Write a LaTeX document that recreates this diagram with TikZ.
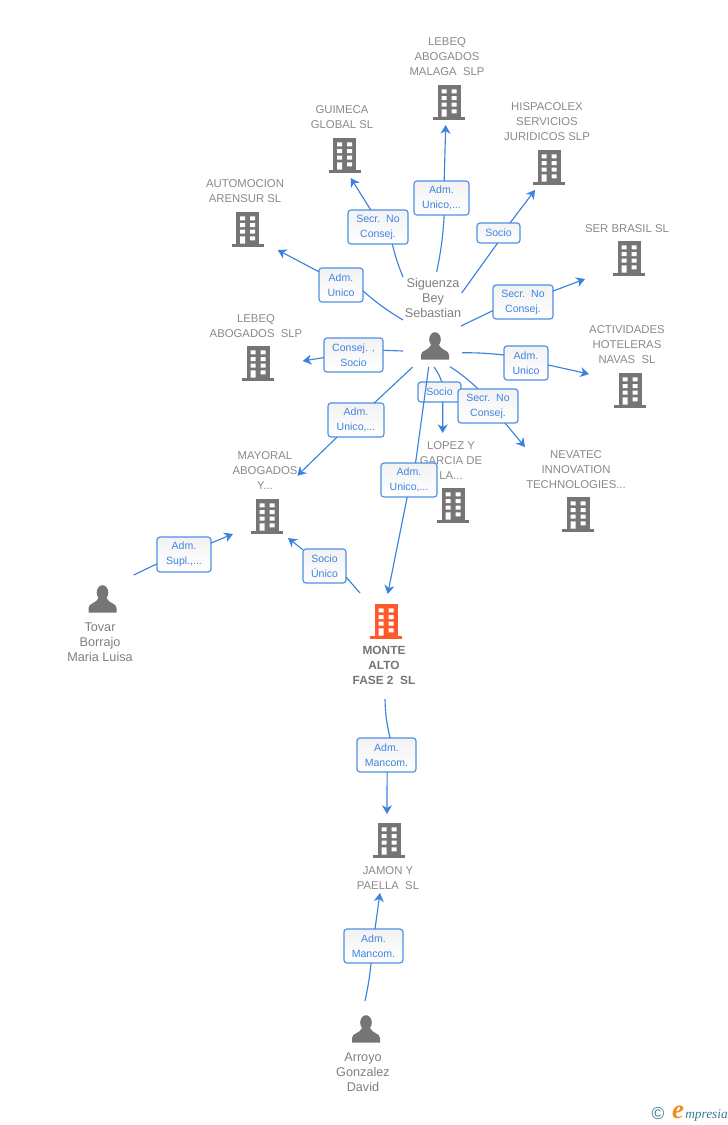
\documentclass[tikz,border=0pt]{standalone}
\usepackage{fontspec}
\setmainfont{Liberation Sans}
\newfontfamily\logofont{Liberation Serif}
\usetikzlibrary{arrows.meta}
\definecolor{icongray}{HTML}{757575}
\definecolor{textgray}{HTML}{8A8A8A}
\definecolor{persongray}{HTML}{808080}
\definecolor{linkblue}{HTML}{3B82E0}
\definecolor{tagtext}{HTML}{3F84E0}
\definecolor{tagborder}{HTML}{4F8FE6}
\definecolor{mainorange}{HTML}{FF5A2B}
\definecolor{logoteal}{HTML}{3A7A96}
\definecolor{logoorange}{HTML}{F58A1F}
\tikzset{
  x=0.75pt,y=-0.75pt,
  corpname/.style={text=textgray,align=center,inner sep=0pt,font=\fontsize{8.5}{11.25}\selectfont},
  personname/.style={text=persongray,align=center,inner sep=0pt,font=\fontsize{9.5}{11.25}\selectfont},
  mainname/.style={text=icongray,align=center,inner sep=0pt,font=\bfseries\fontsize{8.9}{11.25}\selectfont},
  tag/.style={draw=tagborder,line width=0.9pt,rounded corners=2.2pt,top color=black!5,bottom color=white,
    text=tagtext,align=center,inner sep=0pt,outer sep=0pt,font=\fontsize{7.9}{11.25}\selectfont},
  conn/.style={draw=linkblue,line width=0.85pt},
  arr/.style={conn,-{Stealth[length=6.5pt,width=7.5pt,inset=2pt]}},
  iconbox/.style={inner sep=0pt,minimum width=24pt,minimum height=25.5pt},
  pics/bldg/.style={code={
    \fill[#1] (-11.5,-17) rectangle (11.5,15);
    \fill[#1] (-16,14.5) rectangle (16,17.5);
    \fill[white] (-7.5,-12.7) rectangle (-2.5,-8.7) (2.5,-12.7) rectangle (7.5,-8.7)
      (-7.5,-6) rectangle (-2.5,-2) (2.5,-6) rectangle (7.5,-2)
      (-7.5,0.7) rectangle (-2.5,4.7) (2.5,0.7) rectangle (7.5,4.7)
      (-7.5,7.3) rectangle (-2.5,14.5) (2.5,7.3) rectangle (7.5,11.3);
  }},
  pics/pers/.style={code={
    \fill[icongray] (0,-6.5) ellipse [x radius=5.8,y radius=7.3];
    \fill[icongray] (-14,13.5) -- (-14,9) .. controls (-14,4) and (-6,4.5) .. (-4,-1) -- (4,-1)
      .. controls (6,4.5) and (14,4) .. (14,9) -- (14,13.5) -- cycle;
  }},
}
\begin{document}
\begin{tikzpicture}
\useasboundingbox (0,0) rectangle (728,1125);
\fill[white] (0,0) rectangle (728,1125);
% names
\node[corpname] (tMalaga) at (447,56.5) {LEBEQ\\ABOGADOS\\MALAGA~~SLP};
\node[corpname] (tGuimeca) at (342,117) {GUIMECA\\GLOBAL SL};
\node[corpname] (tAuto) at (245,191) {AUTOMOCION\\ARENSUR SL};
\node[corpname] (tHisp) at (547,121.5) {HISPACOLEX\\SERVICIOS\\JURIDICOS SLP};
\node[corpname] (tSer) at (627,228.5) {SER BRASIL SL};
\node[corpname] (tActiv) at (627,344.5) {ACTIVIDADES\\HOTELERAS\\NAVAS~~SL};
\node[corpname] (tLebeq) at (256,326) {LEBEQ\\ABOGADOS~~SLP};
\node[corpname] (tMayoral) at (265,470.5) {MAYORAL\\ABOGADOS\\Y...};
\node[corpname] (tLopez) at (451,460.5) {LOPEZ Y\\GARCIA DE\\LA...};
\node[corpname] (tNevatec) at (576,469.5) {NEVATEC\\INNOVATION\\TECHNOLOGIES...};
\node[mainname] (tMonte) at (384,665) {MONTE\\ALTO\\FASE 2~~SL};
\node[corpname] (tJamon) at (388,878) {JAMON Y\\PAELLA~~SL};
\node[personname] (tSig) at (433,298) {Siguenza\\Bey\\Sebastian};
\node[personname] (tTovar) at (100,642) {Tovar\\Borrajo\\Maria Luisa};
\node[personname] (tArroyo) at (363,1072) {Arroyo\\Gonzalez\\David};
% icons
\node[iconbox] (iMalaga) at (449,102) {}; \pic at (iMalaga) {bldg=icongray};
\node[iconbox] (iGuimeca) at (344.5,155) {}; \pic at (iGuimeca) {bldg=icongray};
\node[iconbox] (iAuto) at (247.5,229) {}; \pic at (iAuto) {bldg=icongray};
\node[iconbox] (iHisp) at (549,167) {}; \pic at (iHisp) {bldg=icongray};
\node[iconbox] (iSer) at (629,258) {}; \pic at (iSer) {bldg=icongray};
\node[iconbox] (iActiv) at (630,390) {}; \pic at (iActiv) {bldg=icongray};
\node[iconbox] (iLebeq) at (258,363) {}; \pic at (iLebeq) {bldg=icongray};
\node[iconbox] (iMayoral) at (267,516) {}; \pic at (iMayoral) {bldg=icongray};
\node[iconbox] (iLopez) at (453,505) {}; \pic at (iLopez) {bldg=icongray};
\node[iconbox] (iNevatec) at (578,514) {}; \pic at (iNevatec) {bldg=icongray};
\node[iconbox] (iMonte) at (386,621) {}; \pic at (iMonte) {bldg=mainorange};
\node[iconbox] (iJamon) at (389,840) {}; \pic at (iJamon) {bldg=icongray};
\node[iconbox] (iSig) at (435,346) {}; \pic at (iSig) {pers};
\node[iconbox] (iTovar) at (102.5,599) {}; \pic at (iTovar) {pers};
\node[iconbox] (iArroyo) at (366,1029) {}; \pic at (iArroyo) {pers};
% tags
\node[tag,minimum width=41.25pt,minimum height=25.5pt] (bMalaga) at (441.5,198) {Adm.\\Unico,...};
\node[tag,minimum width=45pt,minimum height=25.5pt] (bGuimeca) at (378,227) {Secr.~~No\\Consej.};
\node[tag,minimum width=33pt,minimum height=25.5pt] (bAuto) at (341,285) {Adm.\\Unico};
\node[tag,minimum width=32.25pt,minimum height=15pt] (bHisp) at (498.5,233) {Socio};
\node[tag,minimum width=45pt,minimum height=25.5pt] (bSer) at (523,302) {Secr.~~No\\Consej.};
\node[tag,minimum width=33pt,minimum height=25.5pt] (bActiv) at (526,363) {Adm.\\Unico};
\node[tag,minimum width=44.25pt,minimum height=25.5pt] (bLebeq) at (353.5,355) {Consej. ,\\Socio};
\node[tag,minimum width=32.25pt,minimum height=15pt] (bLopez) at (439.5,392) {Socio};
\node[tag,minimum width=45pt,minimum height=25.5pt] (bNevatec) at (488,406) {Secr.~~No\\Consej.};
\node[tag,minimum width=42pt,minimum height=25.5pt] (bMayoral) at (356,420) {Adm.\\Unico,...};
\node[tag,minimum width=42pt,minimum height=25.5pt] (bMonte) at (409,480) {Adm.\\Unico,...};
\node[tag,minimum width=32.25pt,minimum height=25.5pt] (bSocio) at (324.5,566) {Socio\\Único};
\node[tag,minimum width=40.5pt,minimum height=26.25pt] (bSupl) at (184,554.5) {Adm.\\Supl.,...};
\node[tag,minimum width=44.25pt,minimum height=25.5pt] (bJamon) at (386.5,755) {Adm.\\Mancom.};
\node[tag,minimum width=44.25pt,minimum height=25.5pt] (bArroyo) at (373.5,946) {Adm.\\Mancom.};
% free ends
\coordinate (sMalaga) at (436.7,271.7); \coordinate (eMalaga) at (445.7,125);
\coordinate (sGuimeca) at (403,277); \coordinate (eGuimeca) at (350.7,178);
\coordinate (sAuto) at (403,320); \coordinate (eAuto) at (277.7,250);
\coordinate (sHisp) at (461.7,293); \coordinate (eHisp) at (535,190);
\coordinate (sSer) at (461,326); \coordinate (eSer) at (585,279);
\coordinate (sActiv) at (462,352.7); \coordinate (eActiv) at (589,374);
\coordinate (sLebeq) at (403,351); \coordinate (eLebeq) at (302.7,361);
\coordinate (sLopez) at (434,367); \coordinate (eLopez) at (442.7,433);
\coordinate (sNevatec) at (450,366.7); \coordinate (eNevatec) at (525,447);
\coordinate (sMayoral) at (412.7,367); \coordinate (eMayoral) at (297.3,475.7);
\coordinate (sMonte) at (428.7,367); \coordinate (eMonte) at (387.7,594);
\coordinate (sSocio) at (360,593); \coordinate (eSocio) at (288,538);
\coordinate (sSupl) at (133.7,575); \coordinate (eSupl) at (233,534);
\coordinate (sJamon) at (385,699); \coordinate (eJamon) at (387,814);
\coordinate (sArroyo) at (365,1001); \coordinate (eArroyo) at (380,893);
% connectors
\draw[conn] (sMalaga) to[bend right=4] (bMalaga.-81.6); \draw[arr] (bMalaga.81.6) -- (eMalaga);
\draw[conn] (sGuimeca) to[bend left=4] (bGuimeca.-50.5); \draw[arr] (bGuimeca.113) -- (eGuimeca);
\draw[conn] (sAuto) to[bend left=5] (bAuto.-15); \draw[arr] (bAuto.149) -- (eAuto);
\draw[conn] (sHisp) -- (bHisp.-95); \draw[arr] (bHisp.41) -- (eHisp);
\draw[conn] (sSer) -- (bSer.196.7); \draw[arr] (bSer.20) -- (eSer);
\draw[conn] (sActiv) to[bend left=3] (bActiv.160); \draw[arr] (bActiv.-5) -- (eActiv);
\draw[conn] (sLebeq) -- (bLebeq.9.6); \draw[arr] (bLebeq.185.8) -- (eLebeq);
\draw[conn] (sLopez) to[bend left=8] (bLopez.77.6); \draw[arr] (bLopez.-72) -- (eLopez);
\draw[conn] (sNevatec) to[bend left=5] (bNevatec.120.5); \draw[arr] (bNevatec.-45) -- (eNevatec);
\draw[conn] (sMayoral) -- (bMayoral.43.4); \draw[arr] (bMayoral.222.9) -- (eMayoral);
\draw[conn] (sMonte) -- (bMonte.69.7); \draw[arr] (bMonte.-96.7) -- (eMonte);
\draw[conn] (sSocio) -- (bSocio.-27); \draw[arr] (bSocio.143) -- (eSocio);
\draw[conn] (sSupl) -- (bSupl.199.4); \draw[arr] (bSupl.23) -- (eSupl);
\draw[conn] (sJamon) to[bend right=6] (bJamon.78.4); \draw[arr] (bJamon.-88) -- (eJamon);
\draw[conn] (sArroyo) to[bend right=3] (bArroyo.-98); \draw[arr] (bArroyo.85) -- (eArroyo);
% logo
\node[text=logoteal,inner sep=0pt,font=\fontsize{13}{13}\selectfont] (lC) at (658,1114) {©};
\node[text=logoorange,inner sep=0pt,font=\logofont\itshape\bfseries\fontsize{20}{20}\selectfont] (lE) at (678,1112) {e};
\node[text=logoteal,inner sep=0pt,anchor=west,font=\logofont\itshape\fontsize{10}{10}\selectfont] (lM) at (685,1115) {mpresia};
\end{tikzpicture}
\end{document}
